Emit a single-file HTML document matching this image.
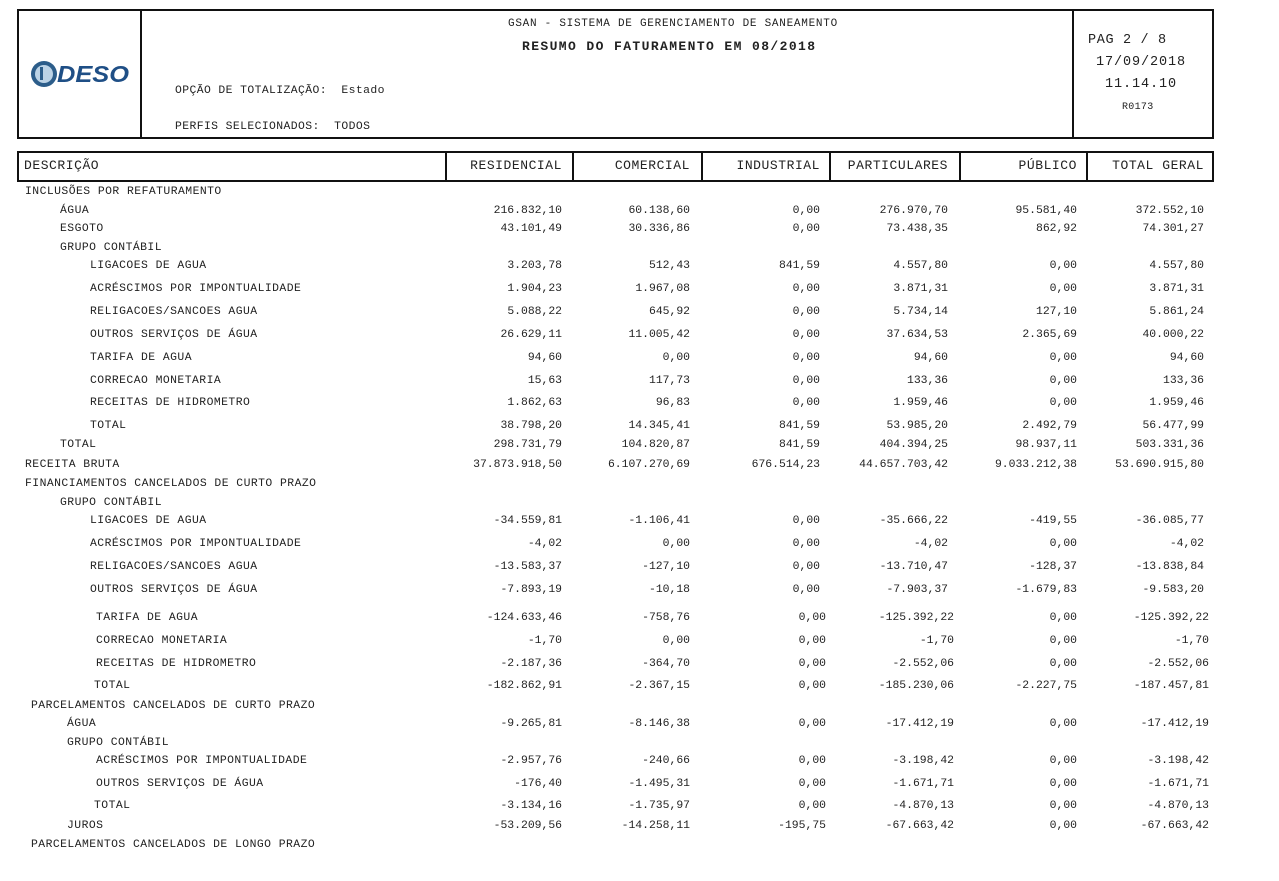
<!DOCTYPE html>
<html><head><meta charset="utf-8"><style>
body{margin:0;width:1279px;height:881px;background:#fff;position:relative;overflow:hidden;font-family:"Liberation Mono","DejaVu Sans Mono",monospace;color:#222;}
.box{position:absolute;border:2px solid #111;box-sizing:border-box}
.vl{position:absolute;width:2px;background:#111}
.t{position:absolute;white-space:pre;font-size:11.4px;line-height:14px;letter-spacing:0.4px}
.row{position:absolute;left:0;width:1279px;height:14px;font-size:11.4px;line-height:14px;white-space:pre;transform:translateY(2px)}
.row span{position:absolute;top:0}
.row span:first-child{letter-spacing:0.45px}
.a{right:717px}.b{right:589px}.c{right:459px}.d{right:331px}.e{right:202px}.f{right:75px}
.s .c{right:453px}.s .d{right:325px}.s .f{right:70px}
.h{position:absolute;font-size:13px;top:158px;white-space:pre;letter-spacing:0.55px}
</style></head><body>
<div class="box" style="left:17px;top:9px;width:1197px;height:130px"></div>
<div class="vl" style="left:140px;top:9px;height:130px"></div>
<div class="vl" style="left:1072px;top:9px;height:130px"></div>
<svg style="position:absolute;left:30px;top:59px" width="102" height="30" viewBox="0 0 102 30">
<circle cx="14" cy="15" r="13" fill="#2c5d8a"/><circle cx="14" cy="15" r="9" fill="#bcd3e6"/><rect x="10" y="8" width="3" height="13" fill="#2c5d8a"/>
<text x="27" y="23" font-family="Liberation Sans,sans-serif" font-weight="bold" font-style="italic" font-size="23" fill="#1f4f86" textLength="72" lengthAdjust="spacingAndGlyphs">DESO</text></svg>
<div class="t" style="left:508px;top:17px;font-size:11px;letter-spacing:0.73px">GSAN - SISTEMA DE GERENCIAMENTO DE SANEAMENTO</div>
<div class="t" style="left:522px;top:40px;font-size:13px;font-weight:bold;letter-spacing:1.4px">RESUMO DO FATURAMENTO EM 08/2018</div>
<div class="t" style="left:175px;top:84px">OPÇÃO DE TOTALIZAÇÃO:  Estado</div>
<div class="t" style="left:175px;top:120px">PERFIS SELECIONADOS:  TODOS</div>
<div class="t" style="left:1088px;top:34px;font-size:13.5px;letter-spacing:0.65px">PAG 2 / 8</div>
<div class="t" style="left:1096px;top:56px;font-size:13.5px;letter-spacing:0.9px">17/09/2018</div>
<div class="t" style="left:1105px;top:78px;font-size:13.5px;letter-spacing:0.9px">11.14.10</div>
<div class="t" style="left:1122px;top:101px;font-size:10px;letter-spacing:0.3px">R0173</div>

<div class="box" style="left:17px;top:151px;width:1197px;height:31px"></div>
<div class="vl" style="left:445px;top:151px;height:31px"></div>
<div class="vl" style="left:572px;top:151px;height:31px"></div>
<div class="vl" style="left:701px;top:151px;height:31px"></div>
<div class="vl" style="left:829px;top:151px;height:31px"></div>
<div class="vl" style="left:959px;top:151px;height:31px"></div>
<div class="vl" style="left:1086px;top:151px;height:31px"></div>
<div class="h" style="left:24px">DESCRIÇÃO</div>
<div class="h" style="right:717px">RESIDENCIAL</div>
<div class="h" style="right:589px">COMERCIAL</div>
<div class="h" style="right:459px">INDUSTRIAL</div>
<div class="h" style="right:331px">PARTICULARES</div>
<div class="h" style="right:202px">PÚBLICO</div>
<div class="h" style="right:75px">TOTAL GERAL</div>

<div class="row" style="top:183px"><span style="left:25px">INCLUSÕES POR REFATURAMENTO</span></div>
<div class="row" style="top:202px"><span style="left:60px">ÁGUA</span><span class="a">216.832,10</span><span class="b">60.138,60</span><span class="c">0,00</span><span class="d">276.970,70</span><span class="e">95.581,40</span><span class="f">372.552,10</span></div>
<div class="row" style="top:220px"><span style="left:60px">ESGOTO</span><span class="a">43.101,49</span><span class="b">30.336,86</span><span class="c">0,00</span><span class="d">73.438,35</span><span class="e">862,92</span><span class="f">74.301,27</span></div>
<div class="row" style="top:239px"><span style="left:60px">GRUPO CONTÁBIL</span></div>
<div class="row" style="top:257px"><span style="left:90px">LIGACOES DE AGUA</span><span class="a">3.203,78</span><span class="b">512,43</span><span class="c">841,59</span><span class="d">4.557,80</span><span class="e">0,00</span><span class="f">4.557,80</span></div>
<div class="row" style="top:280px"><span style="left:90px">ACRÉSCIMOS POR IMPONTUALIDADE</span><span class="a">1.904,23</span><span class="b">1.967,08</span><span class="c">0,00</span><span class="d">3.871,31</span><span class="e">0,00</span><span class="f">3.871,31</span></div>
<div class="row" style="top:303px"><span style="left:90px">RELIGACOES/SANCOES AGUA</span><span class="a">5.088,22</span><span class="b">645,92</span><span class="c">0,00</span><span class="d">5.734,14</span><span class="e">127,10</span><span class="f">5.861,24</span></div>
<div class="row" style="top:326px"><span style="left:90px">OUTROS SERVIÇOS DE ÁGUA</span><span class="a">26.629,11</span><span class="b">11.005,42</span><span class="c">0,00</span><span class="d">37.634,53</span><span class="e">2.365,69</span><span class="f">40.000,22</span></div>
<div class="row" style="top:349px"><span style="left:90px">TARIFA DE AGUA</span><span class="a">94,60</span><span class="b">0,00</span><span class="c">0,00</span><span class="d">94,60</span><span class="e">0,00</span><span class="f">94,60</span></div>
<div class="row" style="top:372px"><span style="left:90px">CORRECAO MONETARIA</span><span class="a">15,63</span><span class="b">117,73</span><span class="c">0,00</span><span class="d">133,36</span><span class="e">0,00</span><span class="f">133,36</span></div>
<div class="row" style="top:394px"><span style="left:90px">RECEITAS DE HIDROMETRO</span><span class="a">1.862,63</span><span class="b">96,83</span><span class="c">0,00</span><span class="d">1.959,46</span><span class="e">0,00</span><span class="f">1.959,46</span></div>
<div class="row" style="top:417px"><span style="left:90px">TOTAL</span><span class="a">38.798,20</span><span class="b">14.345,41</span><span class="c">841,59</span><span class="d">53.985,20</span><span class="e">2.492,79</span><span class="f">56.477,99</span></div>
<div class="row" style="top:436px"><span style="left:60px">TOTAL</span><span class="a">298.731,79</span><span class="b">104.820,87</span><span class="c">841,59</span><span class="d">404.394,25</span><span class="e">98.937,11</span><span class="f">503.331,36</span></div>
<div class="row" style="top:456px"><span style="left:25px">RECEITA BRUTA</span><span class="a">37.873.918,50</span><span class="b">6.107.270,69</span><span class="c">676.514,23</span><span class="d">44.657.703,42</span><span class="e">9.033.212,38</span><span class="f">53.690.915,80</span></div>
<div class="row" style="top:475px"><span style="left:25px">FINANCIAMENTOS CANCELADOS DE CURTO PRAZO</span></div>
<div class="row" style="top:494px"><span style="left:60px">GRUPO CONTÁBIL</span></div>
<div class="row" style="top:512px"><span style="left:90px">LIGACOES DE AGUA</span><span class="a">-34.559,81</span><span class="b">-1.106,41</span><span class="c">0,00</span><span class="d">-35.666,22</span><span class="e">-419,55</span><span class="f">-36.085,77</span></div>
<div class="row" style="top:535px"><span style="left:90px">ACRÉSCIMOS POR IMPONTUALIDADE</span><span class="a">-4,02</span><span class="b">0,00</span><span class="c">0,00</span><span class="d">-4,02</span><span class="e">0,00</span><span class="f">-4,02</span></div>
<div class="row" style="top:558px"><span style="left:90px">RELIGACOES/SANCOES AGUA</span><span class="a">-13.583,37</span><span class="b">-127,10</span><span class="c">0,00</span><span class="d">-13.710,47</span><span class="e">-128,37</span><span class="f">-13.838,84</span></div>
<div class="row" style="top:581px"><span style="left:90px">OUTROS SERVIÇOS DE ÁGUA</span><span class="a">-7.893,19</span><span class="b">-10,18</span><span class="c">0,00</span><span class="d">-7.903,37</span><span class="e">-1.679,83</span><span class="f">-9.583,20</span></div>
<div class="row s" style="top:609px"><span style="left:96px">TARIFA DE AGUA</span><span class="a">-124.633,46</span><span class="b">-758,76</span><span class="c">0,00</span><span class="d">-125.392,22</span><span class="e">0,00</span><span class="f">-125.392,22</span></div>
<div class="row s" style="top:632px"><span style="left:96px">CORRECAO MONETARIA</span><span class="a">-1,70</span><span class="b">0,00</span><span class="c">0,00</span><span class="d">-1,70</span><span class="e">0,00</span><span class="f">-1,70</span></div>
<div class="row s" style="top:655px"><span style="left:96px">RECEITAS DE HIDROMETRO</span><span class="a">-2.187,36</span><span class="b">-364,70</span><span class="c">0,00</span><span class="d">-2.552,06</span><span class="e">0,00</span><span class="f">-2.552,06</span></div>
<div class="row s" style="top:677px"><span style="left:94px">TOTAL</span><span class="a">-182.862,91</span><span class="b">-2.367,15</span><span class="c">0,00</span><span class="d">-185.230,06</span><span class="e">-2.227,75</span><span class="f">-187.457,81</span></div>
<div class="row s" style="top:697px"><span style="left:31px">PARCELAMENTOS CANCELADOS DE CURTO PRAZO</span></div>
<div class="row s" style="top:715px"><span style="left:67px">ÁGUA</span><span class="a">-9.265,81</span><span class="b">-8.146,38</span><span class="c">0,00</span><span class="d">-17.412,19</span><span class="e">0,00</span><span class="f">-17.412,19</span></div>
<div class="row s" style="top:734px"><span style="left:67px">GRUPO CONTÁBIL</span></div>
<div class="row s" style="top:752px"><span style="left:96px">ACRÉSCIMOS POR IMPONTUALIDADE</span><span class="a">-2.957,76</span><span class="b">-240,66</span><span class="c">0,00</span><span class="d">-3.198,42</span><span class="e">0,00</span><span class="f">-3.198,42</span></div>
<div class="row s" style="top:775px"><span style="left:96px">OUTROS SERVIÇOS DE ÁGUA</span><span class="a">-176,40</span><span class="b">-1.495,31</span><span class="c">0,00</span><span class="d">-1.671,71</span><span class="e">0,00</span><span class="f">-1.671,71</span></div>
<div class="row s" style="top:797px"><span style="left:94px">TOTAL</span><span class="a">-3.134,16</span><span class="b">-1.735,97</span><span class="c">0,00</span><span class="d">-4.870,13</span><span class="e">0,00</span><span class="f">-4.870,13</span></div>
<div class="row s" style="top:817px"><span style="left:67px">JUROS</span><span class="a">-53.209,56</span><span class="b">-14.258,11</span><span class="c">-195,75</span><span class="d">-67.663,42</span><span class="e">0,00</span><span class="f">-67.663,42</span></div>
<div class="row s" style="top:836px"><span style="left:31px">PARCELAMENTOS CANCELADOS DE LONGO PRAZO</span></div>
</body></html>
